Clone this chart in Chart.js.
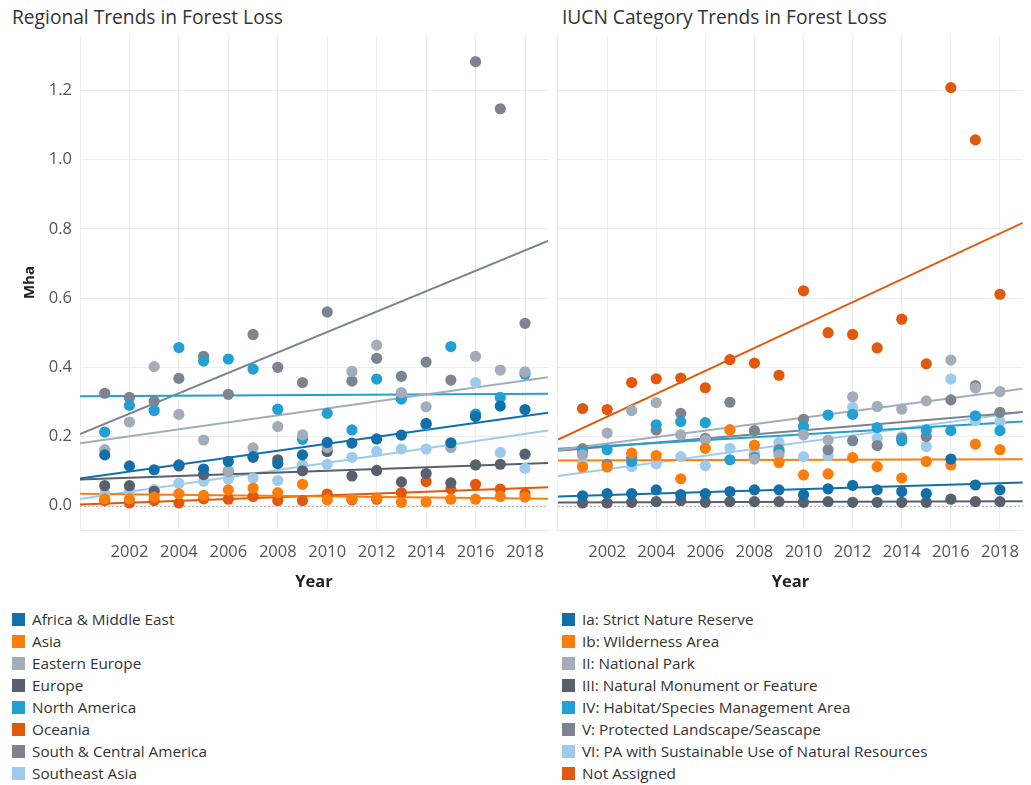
<!DOCTYPE html>
<html><head><meta charset="utf-8">
<script src="https://cdn.jsdelivr.net/npm/chart.js@4.4.1/dist/chart.umd.min.js"></script>
<style>
body{margin:0;background:#fff;font-family:"Open Sans",sans-serif;}
#wrap{position:relative;width:1031px;height:785px;overflow:hidden;background:#fff;}
.title{position:absolute;top:3px;font-size:19.2px;color:#333;white-space:nowrap;}
canvas{position:absolute;top:0;}
.legend{position:absolute;top:608px;}
.item{height:22px;display:flex;align-items:center;font-size:15.3px;color:#333;white-space:nowrap;}
.sw{width:13px;height:13px;margin-right:7px;flex:none;}
</style></head>
<body><div id="wrap">
<div class="title" style="left:12px">Regional Trends in Forest Loss</div>
<div class="title" style="left:562px">IUCN Category Trends in Forest Loss</div>
<canvas id="c1" width="560" height="600" style="left:0"></canvas>
<canvas id="c2" width="485" height="600" style="left:546px"></canvas>
<div class="legend" id="lg1" style="left:12px"></div>
<div class="legend" id="lg2" style="left:562px"></div>
</div>
<script>
const years = [2001,2002,2003,2004,2005,2006,2007,2008,2009,2010,2011,2012,2013,2014,2015,2016,2017,2018];
const xTickYears = [2000,2002,2004,2006,2008,2010,2012,2014,2016,2018];
const yTickValues = [0,0.2,0.4,0.6,0.8,1.0,1.2];

// Regional series (Mha)
const regionNames = ["Africa & Middle East","Asia","Eastern Europe","Europe","North America","Oceania","South & Central America","Southeast Asia"];
const africaMiddleEast = [0.147,0.115,0.104,0.118,0.106,0.128,0.142,0.122,0.147,0.183,0.181,0.193,0.204,0.238,0.182,0.258,0.288,0.278];
const asia = [0.020,0.020,0.025,0.035,0.030,0.046,0.051,0.038,0.062,0.017,0.020,0.022,0.010,0.011,0.019,0.019,0.027,0.025];
const easternEurope = [0.162,0.242,0.402,0.264,0.190,0.100,0.167,0.229,0.205,0.168,0.388,0.464,0.327,0.286,0.168,0.432,0.392,0.387];
const europe = [0.058,0.058,0.042,0.115,0.090,0.100,0.140,0.133,0.101,0.157,0.086,0.102,0.069,0.093,0.066,0.118,0.120,0.149];
const northAmerica = [0.213,0.290,0.275,0.457,0.418,0.424,0.395,0.279,0.192,0.267,0.219,0.366,0.308,0.234,0.460,0.265,0.313,0.380];
const oceania = [0.015,0.008,0.015,0.008,0.020,0.019,0.027,0.015,0.015,0.034,0.017,0.019,0.038,0.070,0.048,0.062,0.048,0.035];
const southCentralAmerica = [0.325,0.313,0.302,0.368,0.432,0.322,0.495,0.400,0.356,0.560,0.360,0.426,0.374,0.415,0.363,1.283,1.147,0.527];
const southeastAsia = [0.035,0.043,0.047,0.065,0.071,0.077,0.080,0.073,0.118,0.120,0.140,0.157,0.164,0.164,0.170,0.356,0.154,0.108];

// IUCN category series (Mha)
const iucnNames = ["Ia: Strict Nature Reserve","Ib: Wilderness Area","II: National Park","III: Natural Monument or Feature","IV: Habitat/Species Management Area","V: Protected Landscape/Seascape","VI: PA with Sustainable Use of Natural Resources","Not Assigned"];
const catIa = [0.029,0.035,0.035,0.046,0.032,0.035,0.041,0.046,0.046,0.032,0.049,0.059,0.046,0.041,0.035,0.135,0.060,0.046];
const catIb = [0.112,0.112,0.152,0.145,0.078,0.166,0.219,0.175,0.125,0.089,0.092,0.139,0.113,0.080,0.128,0.118,0.178,0.162];
const catII = [0.147,0.210,0.275,0.298,0.205,0.190,0.220,0.135,0.147,0.205,0.190,0.315,0.287,0.279,0.303,0.421,0.340,0.330];
const catIII = [0.008,0.008,0.010,0.012,0.015,0.010,0.012,0.012,0.012,0.010,0.012,0.010,0.010,0.010,0.010,0.019,0.012,0.012];
const catIV = [0.155,0.162,0.128,0.234,0.243,0.240,0.133,0.140,0.155,0.229,0.262,0.264,0.226,0.188,0.219,0.217,0.260,0.217];
const catV = [0.165,0.120,0.138,0.219,0.267,0.195,0.299,0.217,0.162,0.250,0.162,0.188,0.174,0.195,0.200,0.306,0.347,0.270];
const catVI = [0.120,0.115,0.113,0.121,0.142,0.116,0.166,0.152,0.183,0.142,0.144,0.284,0.195,0.200,0.171,0.366,0.246,0.243];
const notAssigned = [0.281,0.278,0.356,0.367,0.369,0.341,0.422,0.412,0.377,0.621,0.500,0.495,0.456,0.539,0.410,1.208,1.057,0.611];

const regionColors = ["#1170aa","#fc7d0b","#a3acb9","#57606c","#22a0d3","#e2580c","#7b848f","#9ecbeb"];
const iucnColors = ["#1170aa","#fc7d0b","#a3acb9","#57606c","#22a0d3","#7b848f","#9ecbeb","#e2580c"];
const regionSeries = [africaMiddleEast,asia,easternEurope,europe,northAmerica,oceania,southCentralAmerica,southeastAsia];
const iucnSeries = [catIa,catIb,catII,catIII,catIV,catV,catVI,notAssigned];

const X_MIN = 2000, X_MAX = 2018.93, Y_MIN = -0.07, Y_MAX = 1.36;

function fit(xs, ys){
  const n = xs.length;
  const mx = xs.reduce((a,b)=>a+b,0)/n, my = ys.reduce((a,b)=>a+b,0)/n;
  let sxy=0, sxx=0;
  for(let i=0;i<n;i++){ sxy += (xs[i]-mx)*(ys[i]-my); sxx += (xs[i]-mx)**2; }
  const b = sxy/sxx; return x => my + b*(x-mx);
}

function buildDatasets(series, colors){
  const ds = [];
  series.forEach((vals,i)=>{
    ds.push({type:'scatter', data: years.map((y,j)=>({x:y,y:vals[j]})),
      backgroundColor: colors[i], borderWidth:0, pointRadius:5.6, pointHoverRadius:5.6, order:0});
  });
  series.forEach((vals,i)=>{
    const f = fit(years, vals);
    ds.push({type:'line', data:[{x:X_MIN,y:f(X_MIN)},{x:X_MAX,y:f(X_MAX)}],
      borderColor: colors[i], borderWidth:2, pointRadius:0, fill:false, order:1});
  });
  return ds;
}

const zeroLine = {
  id:'zeroLine',
  beforeDatasetsDraw(chart){
    const {ctx, chartArea, scales} = chart;
    const y = Math.round(scales.y.getPixelForValue(0))+0.5;
    ctx.save(); ctx.strokeStyle='#bdbdbd'; ctx.lineWidth=1; ctx.setLineDash([2,2]);
    ctx.beginPath(); ctx.moveTo(chartArea.left,y); ctx.lineTo(chartArea.right,y); ctx.stroke(); ctx.restore();
  }
};

const gridColor = '#ededed';
const tickFont = {family:'"Open Sans", sans-serif', size:16.5};

function makeChart(id, series, colors, showY){
  return new Chart(document.getElementById(id), {
    type:'scatter',
    data:{datasets: buildDatasets(series, colors)},
    options:{
      responsive:false, animation:false,
      plugins:{legend:{display:false}, tooltip:{enabled:false}},
      layout:{padding:{top:35, right: showY?12:2, left:0, bottom:0}},
      scales:{
        x:{type:'linear', min:X_MIN, max:X_MAX,
          afterBuildTicks: s => { s.ticks = xTickYears.map(v=>({value:v})); },
          afterFit: s => { s.height = 70; },
          grid:{color:gridColor, drawTicks:false},
          border:{display:true, color:gridColor},
          ticks:{padding:12, color:'#555', font:tickFont, maxRotation:0, autoSkip:false,
            callback: v => v===2000 ? '' : String(v)},
          title:{display:true, text:'Year', color:'#222', font:{family:'"Open Sans", sans-serif', size:16.5, weight:'bold'}, padding:{top:0,bottom:8}}
        },
        y:{type:'linear', min:Y_MIN, max:Y_MAX,
          afterBuildTicks: s => { s.ticks = yTickValues.map(v=>({value:v})); },
          afterFit: s => { s.width = showY ? 80 : 10; },
          grid:{color:gridColor, drawTicks:false},
          border:{display:false},
          ticks:{display:showY, padding:8, color:'#555', font:tickFont,
            callback: v => v.toFixed(1)},
          title:{display:showY, text:'Mha', color:'#222', font:{family:'"Open Sans", sans-serif', size:15, weight:'bold'}, padding:{top:21,bottom:0}}
        }
      }
    },
    plugins:[zeroLine]
  });
}

makeChart('c1', regionSeries, regionColors, true);
makeChart('c2', iucnSeries, iucnColors, false);

function legend(id, names, colors){
  const el = document.getElementById(id);
  names.forEach((n,i)=>{
    const d = document.createElement('div'); d.className='item';
    const s = document.createElement('span'); s.className='sw'; s.style.background = colors[i];
    const t = document.createElement('span'); t.textContent = n;
    d.appendChild(s); d.appendChild(t); el.appendChild(d);
  });
}
legend('lg1', regionNames, regionColors);
legend('lg2', iucnNames, iucnColors);
</script>
</body></html>
